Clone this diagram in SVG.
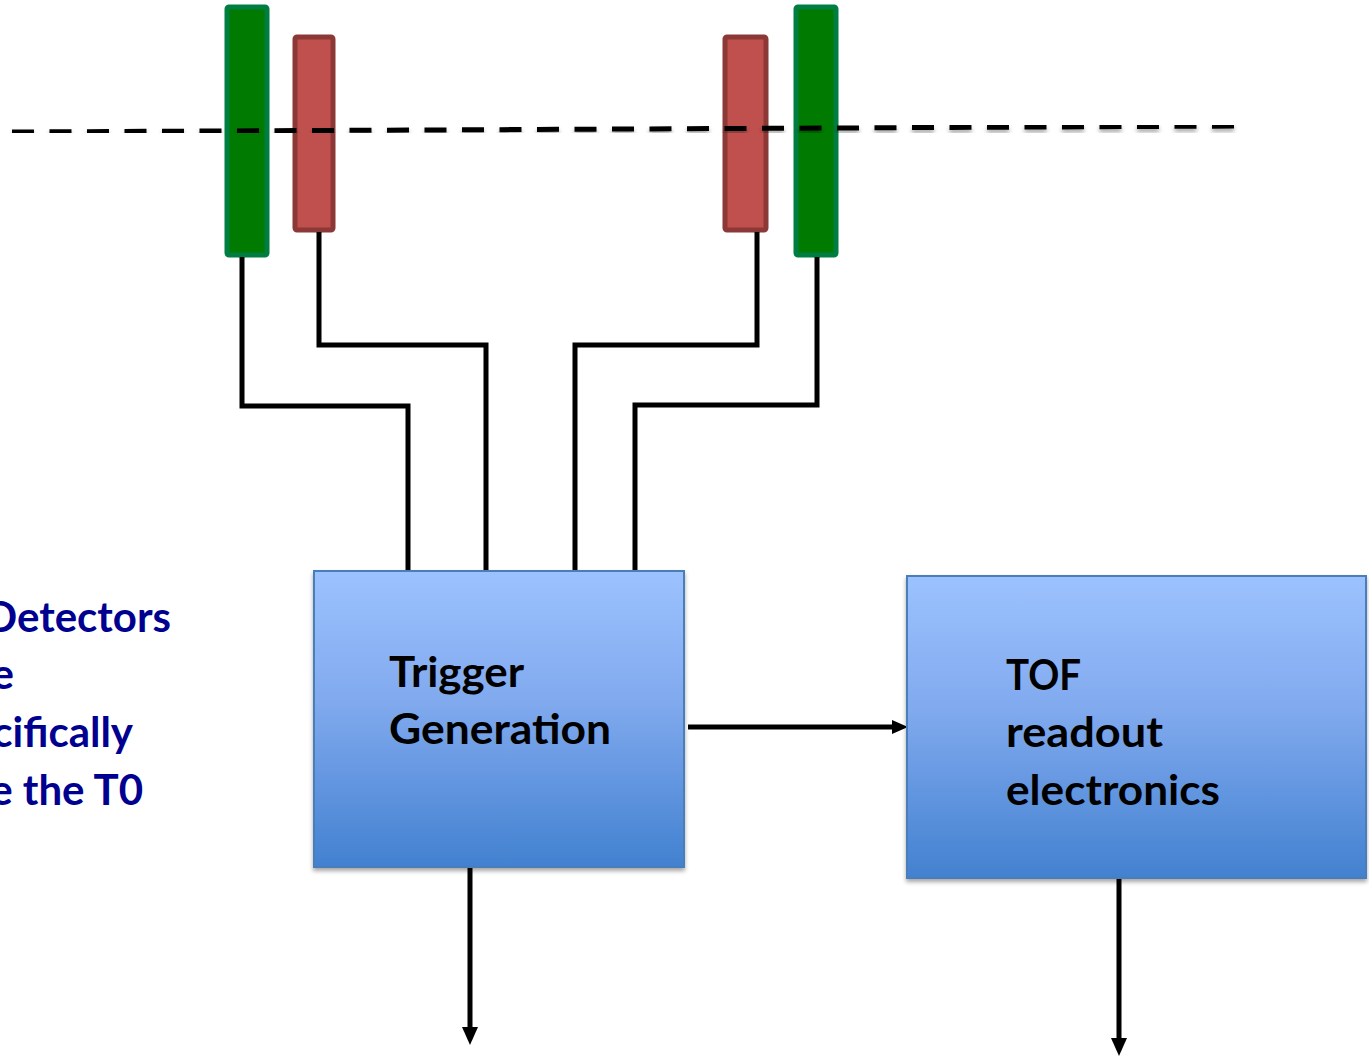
<svg xmlns="http://www.w3.org/2000/svg" width="1369" height="1057" viewBox="0 0 1369 1057">
<defs>
<linearGradient id="blue" x1="0" y1="0" x2="0" y2="1">
<stop offset="0" stop-color="#9CC2FE"/>
<stop offset="0.45" stop-color="#80A9EE"/>
<stop offset="1" stop-color="#4281D0"/>
</linearGradient>
<filter id="sh" x="-5%" y="-5%" width="110%" height="115%">
<feDropShadow dx="0" dy="3" stdDeviation="2" flood-color="#000" flood-opacity="0.35"/>
</filter>
</defs>
<style>
.green{fill:#007A00;stroke:#007D40;stroke-width:5}
.red{fill:#C0504D;stroke:#8C3836;stroke-width:5}
.wire{fill:none;stroke:#000;stroke-width:5}
.head{fill:#000;stroke:none}
.box{fill:url(#blue);stroke:#4A7EBB;stroke-width:2;filter:url(#sh)}
.lbl{font-family:Lato,"Open Sans","Liberation Sans",sans-serif;font-weight:bold;font-size:42px;fill:#000}
.side{font-family:Lato,"Open Sans","Liberation Sans",sans-serif;font-weight:bold;font-size:42px;fill:#000090}
</style>
<rect width="1369" height="1057" fill="#fff"/>
<g id="side-text">
<text class="side" x="171" y="632" text-anchor="end">Detectors</text>
<text class="side" x="14" y="689" text-anchor="end">e</text>
<text class="side" x="133" y="747" text-anchor="end">cifically</text>
<text class="side" x="143" y="805" text-anchor="end">e the T0</text>
</g>
<g id="detectors">
<rect id="green-left" class="green" x="227" y="7" width="40" height="248" rx="2"/>
<rect id="red-left" class="red" x="295" y="37" width="38" height="193" rx="2"/>
<rect id="red-right" class="red" x="725" y="37" width="41" height="193" rx="2"/>
<rect id="green-right" class="green" x="796" y="7" width="40" height="248" rx="2"/>
</g>
<g id="beamline">
<line x1="12" y1="132" x2="1246" y2="126" stroke="#000" stroke-width="5" stroke-dasharray="22 15.5" filter="url(#sh)"/>
</g>
<g id="connectors">
<polyline class="wire" points="242,257 242,406 408,406 408,570"/>
<polyline class="wire" points="319,232 319,345 486,345 486,570"/>
<polyline class="wire" points="757,232 757,345 575,345 575,570"/>
<polyline class="wire" points="817,257 817,405 635,405 635,570"/>
<line class="wire" x1="688" y1="727" x2="895" y2="727"/>
<path class="head" d="M908,727 L892,720 L892,734 Z"/>
<line class="wire" x1="470" y1="868" x2="470" y2="1030"/>
<path class="head" d="M470,1045 L462,1027 L478,1027 Z"/>
<line class="wire" x1="1119" y1="879" x2="1119" y2="1040"/>
<path class="head" d="M1119,1056 L1111,1038 L1127,1038 Z"/>
</g>
<g id="trigger">
<rect class="box" x="314" y="571" width="370" height="296"/>
<text class="lbl" x="389" y="687" textLength="135" lengthAdjust="spacingAndGlyphs">Trigger</text>
<text class="lbl" x="389" y="744" textLength="222" lengthAdjust="spacingAndGlyphs">Generation</text>
</g>
<g id="tof">
<rect class="box" x="907" y="576" width="459" height="302"/>
<text class="lbl" x="1006" y="690" textLength="75" lengthAdjust="spacingAndGlyphs">TOF</text>
<text class="lbl" x="1006" y="747" textLength="157" lengthAdjust="spacingAndGlyphs">readout</text>
<text class="lbl" x="1006" y="805" textLength="214" lengthAdjust="spacingAndGlyphs">electronics</text>
</g>
</svg>
